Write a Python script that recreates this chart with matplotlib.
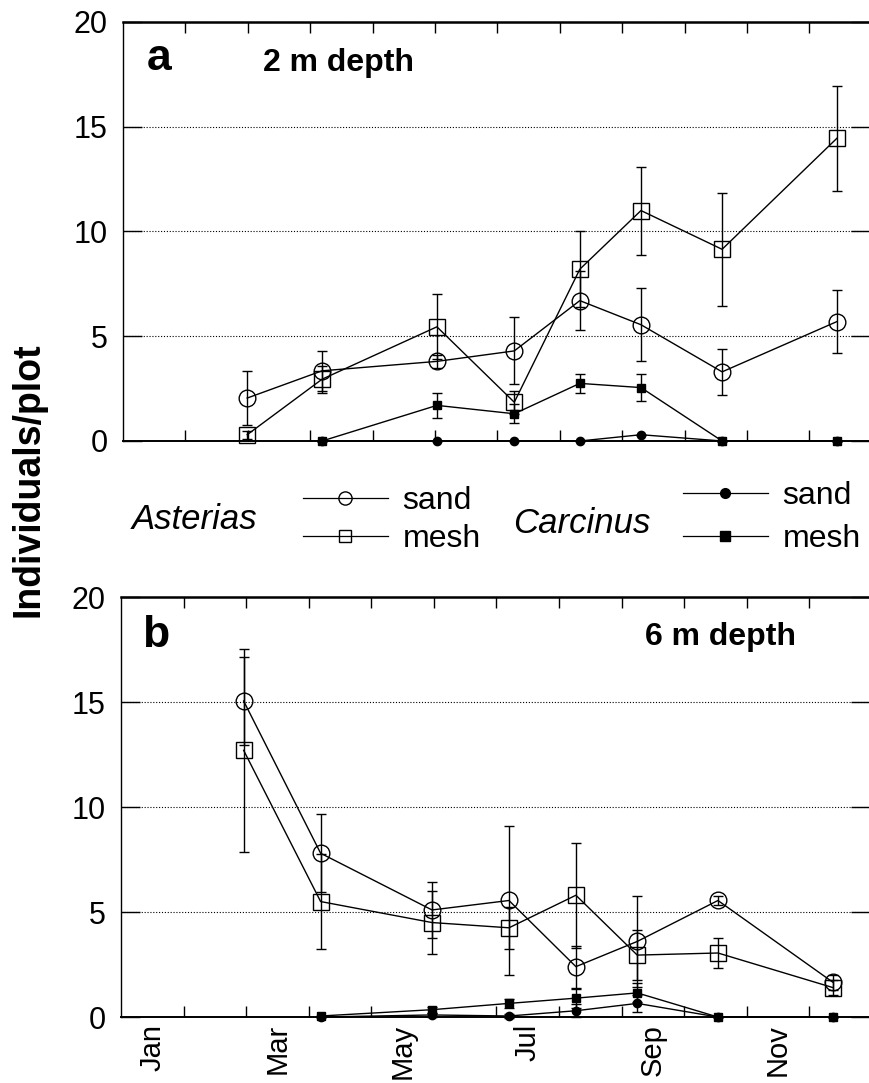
import numpy as np
import matplotlib.pyplot as plt
from matplotlib.lines import Line2D

plt.rcParams['font.family'] = ['Liberation Sans', 'DejaVu Sans']

nan = np.nan

# sampling dates, months counted from 1 January
month_a = [1.99, 3.19, 5.03, 6.27, 7.32, 8.30, 9.60, 11.44]
month_b = [1.96, 3.19, 4.97, 6.20, 7.27, 8.25, 9.54, 11.38]

# a: 2 m depth (mean and error, individuals per plot)
asterias_sand_a = [2.05, 3.35, 3.8, 4.3, 6.7, 5.55, 3.3, 5.7]
asterias_sand_a_err = [1.3, 0.95, 0.3, 1.6, 1.4, 1.75, 1.1, 1.5]
asterias_mesh_a = [0.3, 2.95, 5.45, 1.85, 8.2, 11.0, 9.15, 14.45]
asterias_mesh_a_err = [0.2, 0.65, 1.55, 0.55, 1.8, 2.1, 2.7, 2.5]
carcinus_sand_a = [nan, 0, 0, 0, 0, 0.3, 0, 0]
carcinus_sand_a_err = [0, 0, 0, 0, 0, 0, 0, 0]
carcinus_mesh_a = [nan, 0, 1.7, 1.3, 2.75, 2.55, 0, 0]
carcinus_mesh_a_err = [0, 0, 0.6, 0.45, 0.45, 0.65, 0, 0]

# b: 6 m depth
asterias_sand_b = [15.05, 7.8, 5.1, 5.55, 2.4, 3.6, 5.55, 1.65]
asterias_sand_b_err = [2.1, 1.85, 1.35, 3.55, 1.0, 2.15, 0.2, 0.35]
asterias_mesh_b = [12.7, 5.5, 4.5, 4.25, 5.8, 2.95, 3.05, 1.4]
asterias_mesh_b_err = [4.85, 2.25, 1.5, 1.0, 2.5, 1.2, 0.7, 0.35]
carcinus_sand_b = [nan, 0, 0.1, 0.05, 0.3, 0.65, 0, 0]
carcinus_sand_b_err = [0, 0, 0.1, 0.1, 0.3, 0.4, 0, 0]
carcinus_mesh_b = [nan, 0.05, 0.35, 0.65, 0.9, 1.15, 0, 0]
carcinus_mesh_b_err = [0, 0, 0.15, 0.2, 0.45, 0.45, 0, 0]

month_names = ['Jan', 'Mar', 'May', 'Jul', 'Sep', 'Nov']
yticks = [0, 5, 10, 15, 20]


def draw_panel(ax, x, a_sand, a_sand_err, a_mesh, a_mesh_err,
               c_sand, c_sand_err, c_mesh, c_mesh_err):
    common = dict(color='k', lw=1.0, elinewidth=1.0, capsize=3.6,
                  capthick=1.0, clip_on=False)
    ax.errorbar(x, c_sand, yerr=c_sand_err, fmt='-o', ms=6, **common)
    ax.errorbar(x, c_mesh, yerr=c_mesh_err, fmt='-s', ms=6, **common)
    ax.errorbar(x, a_sand, yerr=a_sand_err, fmt='-o', ms=12, mfc='none', **common)
    ax.errorbar(x, a_mesh, yerr=a_mesh_err, fmt='-s', ms=12, mfc='none', **common)

    ax.set_xlim(0, 11.97)
    ax.set_ylim(0, 20)
    ax.set_yticks(yticks)
    ax.set_yticklabels([str(v) for v in yticks])
    ax.yaxis.grid(True, linestyle=(0, (1, 1.6)), lw=0.8, color='k')
    ax.set_axisbelow(True)

    # month boundaries as ticks, month names at mid-month
    ax.set_xticks(np.arange(1, 12))
    ax.set_xticklabels([])
    ax.set_xticks(np.arange(0.5, 12, 2), minor=True)

    ax.tick_params(axis='y', direction='in', length=14, width=1, pad=11,
                   labelsize=22, left=True, right=True)
    ax.tick_params(axis='x', which='major', direction='in', length=8,
                   width=1, top=True, bottom=True)
    ax.tick_params(axis='x', which='minor', length=0, pad=5, labelsize=21,
                   labelrotation=90)

    ax.spines['right'].set_visible(False)
    ax.spines['top'].set_linewidth(1.8)
    ax.spines['bottom'].set_linewidth(1.4)
    ax.spines['left'].set_linewidth(1.0)


fig = plt.figure(figsize=(8.7, 10.83), dpi=100)
ax_a = fig.add_axes([0.1414, 0.5928, 0.8586, 0.3869])
ax_b = fig.add_axes([0.1391, 0.0609, 0.8609, 0.3878])

draw_panel(ax_a, month_a, asterias_sand_a, asterias_sand_a_err,
           asterias_mesh_a, asterias_mesh_a_err, carcinus_sand_a,
           carcinus_sand_a_err, carcinus_mesh_a, carcinus_mesh_a_err)
draw_panel(ax_b, month_b, asterias_sand_b, asterias_sand_b_err,
           asterias_mesh_b, asterias_mesh_b_err, carcinus_sand_b,
           carcinus_sand_b_err, carcinus_mesh_b, carcinus_mesh_b_err)
ax_a.set_xticklabels([], minor=True)
ax_b.set_xticklabels(month_names, minor=True)

ax_a.text(0.032, 0.885, 'a', transform=ax_a.transAxes, fontsize=32,
          fontweight='bold', va='baseline')
ax_a.text(0.187, 0.883, '2 m depth', transform=ax_a.transAxes, fontsize=23,
          fontweight='bold', va='baseline')
ax_b.text(0.028, 0.88, 'b', transform=ax_b.transAxes, fontsize=32,
          fontweight='bold', va='baseline')
ax_b.text(0.699, 0.886, '6 m depth', transform=ax_b.transAxes, fontsize=23,
          fontweight='bold', va='baseline')

fig.text(0.033, 0.557, 'Individuals/plot', rotation=90, fontsize=27,
         fontweight='bold', ha='center', va='center')

# species legends between the two panels
fig.text(132 / 870, 0.520, 'Asterias', style='italic', fontsize=25,
         ha='left', va='center')
fig.text(513 / 870, 0.517, 'Carcinus', style='italic', fontsize=25,
         ha='left', va='center')

asterias_handles = [
    Line2D([], [], color='k', lw=0.9, marker='o', ms=9.5, mfc='none'),
    Line2D([], [], color='k', lw=0.9, marker='s', ms=9, mfc='none'),
]
carcinus_handles = [
    Line2D([], [], color='k', lw=0.9, marker='o', ms=7),
    Line2D([], [], color='k', lw=0.9, marker='s', ms=7),
]
legend_kw = dict(loc='center left', frameon=False, fontsize=23,
                 handlelength=2.65, handletextpad=0.47, borderpad=0,
                 borderaxespad=0)
fig.legend(asterias_handles, ['sand', 'mesh'],
           bbox_to_anchor=(303 / 870, 0.520), labelspacing=0.25, **legend_kw)
fig.legend(carcinus_handles, ['sand', 'mesh'],
           bbox_to_anchor=(683 / 870, 0.522), labelspacing=0.4, **legend_kw)

plt.savefig('out.png', dpi=100)
